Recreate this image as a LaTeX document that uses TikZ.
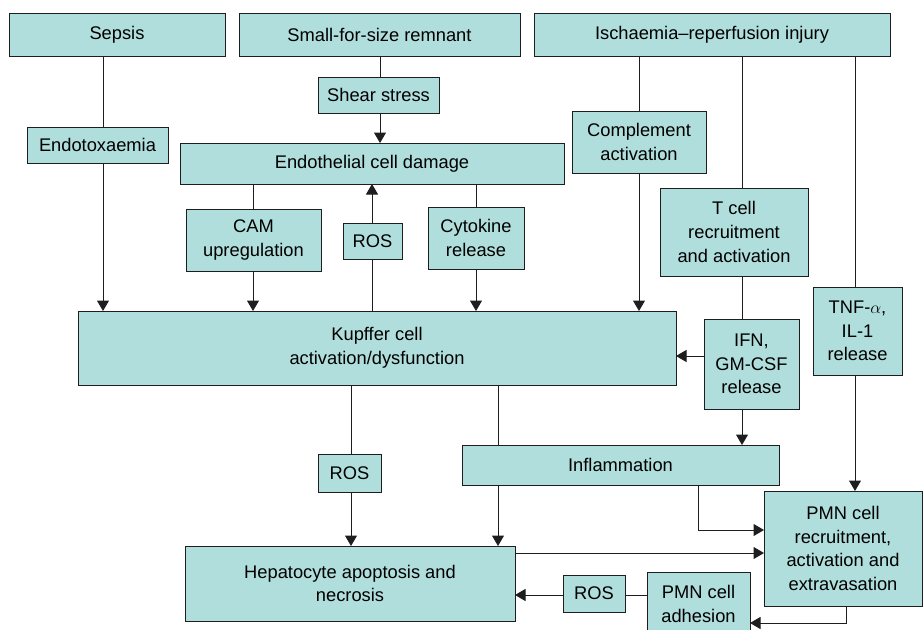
\documentclass[tikz,border=0pt]{standalone}
\usepackage{fontspec}
\setmainfont{Liberation Sans}
\usetikzlibrary{arrows.meta}
\definecolor{boxfill}{RGB}{176,222,220}
\definecolor{edge}{RGB}{30,30,30}
\begin{document}
\begin{tikzpicture}[x=1pt,y=-1pt,
  box/.style={draw=edge, fill=boxfill, line width=1pt, inner sep=0pt, outer sep=0pt, align=center, font=\fontsize{18.3}{23.7}\selectfont},
  conn/.style={draw=edge, line width=1pt},
  arr/.style={conn, -{Triangle[length=10.5pt,width=12pt]}}]
\useasboundingbox (0,0) rectangle (923,629);
% boxes
\node[box, minimum width=216pt, minimum height=43pt] (sepsis) at (117,34.5) {Sepsis};
\node[box, minimum width=281pt, minimum height=43pt] (small) at (379.5,34.5) {Small-for-size remnant};
\node[box, minimum width=356pt, minimum height=43pt] (isch) at (712,34.5) {Ischaemia\textendash reperfusion injury};
\node[box, minimum width=121pt, minimum height=36pt] (shear) at (378.5,95) {Shear stress};
\node[box, minimum width=141pt, minimum height=36pt] (endotox) at (97.5,145) {Endotoxaemia};
\node[box, minimum width=384pt, minimum height=41pt] (endo) at (372,163.5) {Endothelial cell damage};
\node[box, minimum width=135pt, minimum height=62pt] (cam) at (253.5,240) {CAM\\upregulation};
\node[box, minimum width=59pt, minimum height=36pt] (ros1) at (372.5,241) {ROS};
\node[box, minimum width=96pt, minimum height=62pt] (cyto) at (476,238) {Cytokine\\release};
\node[box, minimum width=134pt, minimum height=62pt] (comp) at (639,142) {Complement\\activation};
\node[box, minimum width=148pt, minimum height=88pt] (tcell) at (734,232) {T cell\\recruitment\\and activation};
\node[box, minimum width=95pt, minimum height=90pt] (ifn) at (751.5,364) {IFN,\\GM-CSF\\release};
\node[box, minimum width=89pt, minimum height=88pt] (tnf) at (857.5,331) {TNF-$\alpha$,\\IL-1\\release};
\node[box, minimum width=598pt, minimum height=74pt] (kup) at (377,348) {Kupffer cell\\activation/dysfunction};
\node[box, minimum width=63pt, minimum height=38pt] (ros2) at (349.5,473) {ROS};
\node[box, minimum width=317pt, minimum height=40pt] (infl) at (620.5,465) {Inflammation};
\node[box, minimum width=330pt, minimum height=75pt] (hep) at (350,583.5) {Hepatocyte apoptosis and\\necrosis};
\node[box, minimum width=62pt, minimum height=37pt] (ros3) at (594,593.5) {ROS};
\node[box, minimum width=103pt, minimum height=64pt] (adh) at (698.5,604) {PMN cell\\adhesion};
\node[box, minimum width=158pt, minimum height=115pt] (pmn) at (843,548.5) {PMN cell\\recruitment,\\activation and\\extravasation};
% guide coordinates
\coordinate (xSep) at (103,0);
\coordinate (xSmall) at (380,0);
\coordinate (xCam) at (253,0);
\coordinate (xRosA) at (372,0);
\coordinate (xCyto) at (476,0);
\coordinate (xComp) at (639,0);
\coordinate (xT) at (742,0);
\coordinate (xTnf) at (855,0);
\coordinate (xRosB) at (351,0);
\coordinate (xKtwo) at (498,0);
\coordinate (xInfl) at (698,0);
\coordinate (xPmn) at (846,0);
\coordinate (yIfn) at (0,356);
\coordinate (yInflPmn) at (0,530);
\coordinate (yHepPmn) at (0,553);
\coordinate (yRosC) at (0,595);
\coordinate (yPmnAdh) at (0,623);
% connectors
\draw[conn] (sepsis.south -| xSep) -- (endotox.north -| xSep);
\draw[arr] (endotox.south -| xSep) -- (kup.north -| xSep);
\draw[conn] (small.south -| xSmall) -- (shear.north -| xSmall);
\draw[arr] (shear.south -| xSmall) -- (endo.north -| xSmall);
\draw[conn] (endo.south -| xCam) -- (cam.north -| xCam);
\draw[arr] (cam.south -| xCam) -- (kup.north -| xCam);
\draw[conn] (kup.north -| xRosA) -- (ros1.south -| xRosA);
\draw[arr] (ros1.north -| xRosA) -- (endo.south -| xRosA);
\draw[conn] (endo.south -| xCyto) -- (cyto.north -| xCyto);
\draw[arr] (cyto.south -| xCyto) -- (kup.north -| xCyto);
\draw[conn] (isch.south -| xComp) -- (comp.north -| xComp);
\draw[arr] (comp.south -| xComp) -- (kup.north -| xComp);
\draw[conn] (isch.south -| xT) -- (tcell.north -| xT);
\draw[conn] (tcell.south -| xT) -- (ifn.north -| xT);
\draw[arr] (ifn.west |- yIfn) -- (kup.east |- yIfn);
\draw[arr] (ifn.south -| xT) -- (infl.north -| xT);
\draw[conn] (isch.south -| xTnf) -- (tnf.north -| xTnf);
\draw[arr] (tnf.south -| xTnf) -- (pmn.north -| xTnf);
\draw[conn] (kup.south -| xRosB) -- (ros2.north -| xRosB);
\draw[arr] (ros2.south -| xRosB) -- (hep.north -| xRosB);
\draw[conn] (kup.south -| xKtwo) -- (infl.north -| xKtwo);
\draw[arr] (infl.south -| xKtwo) -- (hep.north -| xKtwo);
\draw[arr] (infl.south -| xInfl) |- (pmn.west |- yInflPmn);
\draw[arr] (hep.east |- yHepPmn) -- (pmn.west |- yHepPmn);
\draw[arr] (pmn.south -| xPmn) |- (adh.east |- yPmnAdh);
\draw[conn] (adh.west |- yRosC) -- (ros3.east |- yRosC);
\draw[arr] (ros3.west |- yRosC) -- (hep.east |- yRosC);
\end{tikzpicture}
\end{document}
